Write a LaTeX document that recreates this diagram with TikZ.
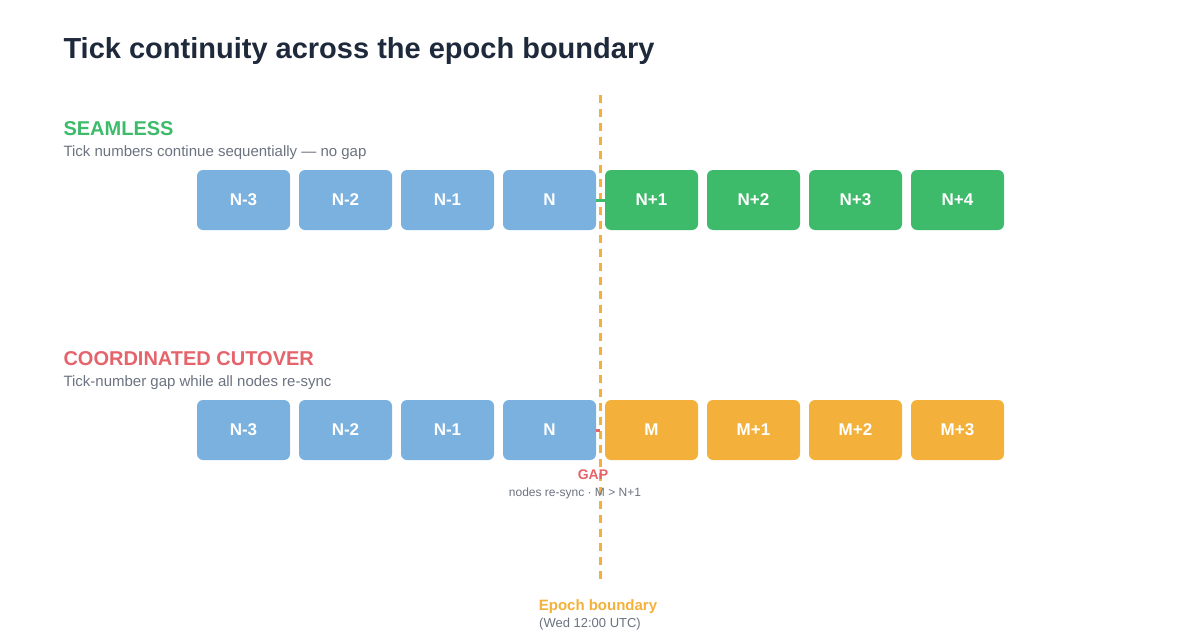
\documentclass[tikz,border=0pt]{standalone}
\usepackage{fontspec}
\setmainfont{Liberation Sans}
\usepackage{tikz}
\usetikzlibrary{positioning}
\definecolor{navy}{HTML}{1E293B}
\definecolor{slate}{HTML}{6B7280}
\definecolor{tickblue}{HTML}{7AB1DF}
\definecolor{tickgreen}{HTML}{3DBB6A}
\definecolor{tickorange}{HTML}{F3B13B}
\definecolor{gapred}{HTML}{E5636A}
\tikzset{
  tick/.style={rectangle,rounded corners=6pt,minimum width=93pt,minimum height=60pt,
    inner sep=0pt,text=white,font=\fontsize{17}{20}\selectfont\bfseries},
  heading/.style={anchor=base west,font=\fontsize{20}{24}\selectfont\bfseries},
  note/.style={anchor=base west,text=slate,font=\fontsize{15}{18}\selectfont}
}
\begin{document}
\begin{tikzpicture}[x=1pt,y=-1pt]
        \useasboundingbox (0,0) rectangle (1200,640);
        \node[anchor=base west,text=navy,font=\fontsize{29}{34}\selectfont\bfseries] (title) at (60,58) {Tick continuity across the epoch boundary};
        % epoch boundary
        \coordinate (top) at (600,95);
        \coordinate (bot) at (600,580);
        \draw[tickorange,line width=3pt,dash pattern=on 8pt off 6pt] (top) -- (bot);
        \node[anchor=base,text=tickorange,font=\fontsize{15}{18}\selectfont\bfseries] (epoch) at (598,610) {Epoch boundary};
        \node[anchor=base,text=slate,font=\fontsize{13}{16}\selectfont] (when) at (590,627) {(Wed 12:00 UTC)};
        % seamless row
        \node[heading,text=tickgreen] (sh) at (60,135) {SEAMLESS};
        \node[note] (sn) at (60,156) {Tick numbers continue sequentially — no gap};
        \foreach \t [count=\i] in {N-3,N-2,N-1,N}
            \node[tick,fill=tickblue] (s\i) at (141.5+102*\i,200) {\t};
        \foreach \t [count=\i] in {N+1,N+2,N+3,N+4}
            \node[tick,fill=tickgreen] (g\i) at (549.5+102*\i,200) {\t};
        \draw[tickgreen,line width=3pt] (s4.east) -- (g1.west);
        % cutover row
        \node[heading,text=gapred] (ch) at (60,365) {COORDINATED CUTOVER};
        \node[note] (cn) at (60,386) {Tick-number gap while all nodes re-sync};
        \foreach \t [count=\i] in {N-3,N-2,N-1,N}
            \node[tick,fill=tickblue] (c\i) at (141.5+102*\i,430) {\t};
        \foreach \t [count=\i] in {M,M+1,M+2,M+3}
            \node[tick,fill=tickorange] (m\i) at (549.5+102*\i,430) {\t};
        \coordinate (cut) at (600,430);
        \draw[gapred,line width=3pt] (c4.east) -- (cut);
        \node[anchor=base,text=gapred,font=\fontsize{14}{17}\selectfont\bfseries] (gap) at (593,479) {GAP};
        \node[anchor=base,text=slate,font=\fontsize{12}{14}\selectfont] (gapnote) at (575,496) {nodes re-sync · M > N+1};
\end{tikzpicture}
\end{document}
